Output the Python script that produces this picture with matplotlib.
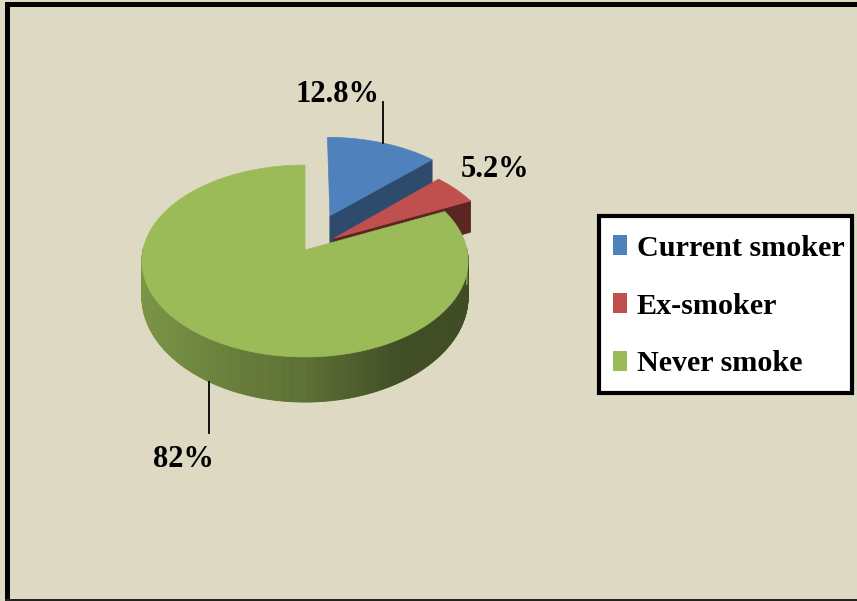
import numpy as np
import matplotlib
matplotlib.use("Agg")
import matplotlib.pyplot as plt
from matplotlib.patches import Polygon, Rectangle, Patch
from matplotlib.lines import Line2D

# ---- data ----
categories = ['Current smoker', 'Ex-smoker', 'Never smoke']
values = [12.8, 5.2, 82.0]
pct_labels = ['12.8%', '5.2%', '82%']

# ---- style ----
colors = ['#4F81BD', '#C0504D', '#9BBB59']
explode = [0.41, 0.22, 0.0]
cut_shade = [0.58, 0.47, 0.50]
BG = '#DDD9C3'
FONT = ['Liberation Serif', 'DejaVu Serif']

W, H = 857, 601
fig = plt.figure(figsize=(W / 100, H / 100), dpi=100, facecolor=BG)
ax = fig.add_axes([0, 0, 1, 1])
ax.set_xlim(0, W)
ax.set_ylim(H, 0)
ax.axis('off')

# projection parameters of the 3D pie (layout)
CX, CY = 305.0, 250.0
A, B = 162.0, 94.7
K = 0.1146
DEPTH, K2 = 35.0, 0.224


def proj(X, Z, bottom=False):
    w = 1.0 + K * Z
    sx = CX + A * X / w
    sy = CY - B * Z / w
    if bottom:
        sy = sy + DEPTH / (1.0 + K2 * Z)
    return sx, sy


def shade(c, f):
    r, g, b = matplotlib.colors.to_rgb(c)
    return (r * f, g * f, b * f)


def side_factor(t):
    t = t % 360
    return float(np.interp(t, [180, 220, 270, 300, 360], [0.82, 0.76, 0.60, 0.42, 0.40]))


total = sum(values)
start = 90.0
slices = []
cum = 0.0
for i, v in enumerate(values):
    t_hi = start - cum / total * 360.0
    t_lo = t_hi - v / total * 360.0
    cum += v
    mid = np.radians((t_hi + t_lo) / 2)
    vx, vz = explode[i] * np.cos(mid), explode[i] * np.sin(mid)
    slices.append(dict(i=i, t_hi=t_hi, t_lo=t_lo, vx=vx, vz=vz, mid=mid))

# draw back to front
for s in sorted(slices, key=lambda d: -d['vz']):
    i = s['i']
    vx, vz = s['vx'], s['vz']
    col = colors[i]
    ts = np.linspace(s['t_lo'], s['t_hi'], max(8, int((s['t_hi'] - s['t_lo']) * 2)))
    # outer side (front-facing part)
    for a0, a1 in zip(ts[:-1], ts[1:]):
        tm = np.radians((a0 + a1) / 2)
        if np.sin(tm) > 0.03:
            continue
        r0, r1 = np.radians(a0), np.radians(a1)
        p = [proj(vx + np.cos(r0), vz + np.sin(r0)),
             proj(vx + np.cos(r1), vz + np.sin(r1)),
             proj(vx + np.cos(r1), vz + np.sin(r1), True),
             proj(vx + np.cos(r0), vz + np.sin(r0), True)]
        c = shade(col, side_factor((a0 + a1) / 2))
        ax.add_patch(Polygon(p, closed=True, facecolor=c, edgecolor=c, lw=0.6))
    # cut faces
    for t, sign in ((s['t_lo'], 1), (s['t_hi'], -1)):
        tr = np.radians(t)
        nz = -np.cos(tr) if sign == 1 else np.cos(tr)
        if nz < -1e-6:
            p = [proj(vx, vz), proj(vx + np.cos(tr), vz + np.sin(tr)),
                 proj(vx + np.cos(tr), vz + np.sin(tr), True), proj(vx, vz, True)]
            c = shade(col, cut_shade[i])
            ax.add_patch(Polygon(p, closed=True, facecolor=c, edgecolor=c, lw=0.6))
    # top face
    rr = np.radians(ts)
    pts = [proj(vx, vz)] + [proj(vx + np.cos(r), vz + np.sin(r)) for r in rr]
    ax.add_patch(Polygon(pts, closed=True, facecolor=col, edgecolor=col, lw=0.5))

# labels with leader lines
lab_kw = dict(fontsize=22, fontweight='bold', family=FONT, color='black')
for s in slices:
    i = s['i']
    mx, mz = s['vx'] + np.cos(s['mid']), s['vz'] + np.sin(s['mid'])
    if i == 0:
        px, py = proj(mx, mz)
        ax.add_line(Line2D([px, px], [py, py - 41], color='black', lw=1.3))
        ax.text(px - 3, py - 41, pct_labels[i], ha='right', va='baseline', **lab_kw)
    elif i == 1:
        px, py = proj(mx, mz)
        ax.text(px + 5, py - 12, pct_labels[i], ha='left', va='baseline', **lab_kw)
    else:
        px, py = proj(mx, mz, True)
        ax.add_line(Line2D([px, px], [py, py + 51], color='black', lw=1.3))
        ax.text(px + 5, py + 85, pct_labels[i], ha='right', va='baseline', **lab_kw)

# legend: frame drawn as rectangle, entries via legend
ax.add_patch(Rectangle((599.5, 215.5), 253, 177, facecolor='white', edgecolor='black',
                       lw=3, zorder=5))
handles = [Patch(facecolor=c, edgecolor='none') for c in colors]
leg = ax.legend(handles, categories, loc='upper left',
                bbox_to_anchor=(613 / W, 1 - 235 / H), bbox_transform=fig.transFigure,
                prop=dict(family=FONT, weight='bold', size=21.7),
                frameon=False, handlelength=0.48, handleheight=0.65,
                handletextpad=0.3, labelspacing=1.02, borderpad=0.0, borderaxespad=0)
leg.set_zorder(6)

# chart border
ax.add_patch(Rectangle((5, 2), W - 5, 5, facecolor='black', edgecolor='none', clip_on=False))
ax.add_patch(Rectangle((5, 2), 5, H - 2, facecolor='black', edgecolor='none', clip_on=False))
ax.add_patch(Rectangle((5, 598.5), W - 5, 2.5, facecolor='#222222', edgecolor='none', clip_on=False))

fig.savefig('out.png', dpi=100, facecolor=BG)
